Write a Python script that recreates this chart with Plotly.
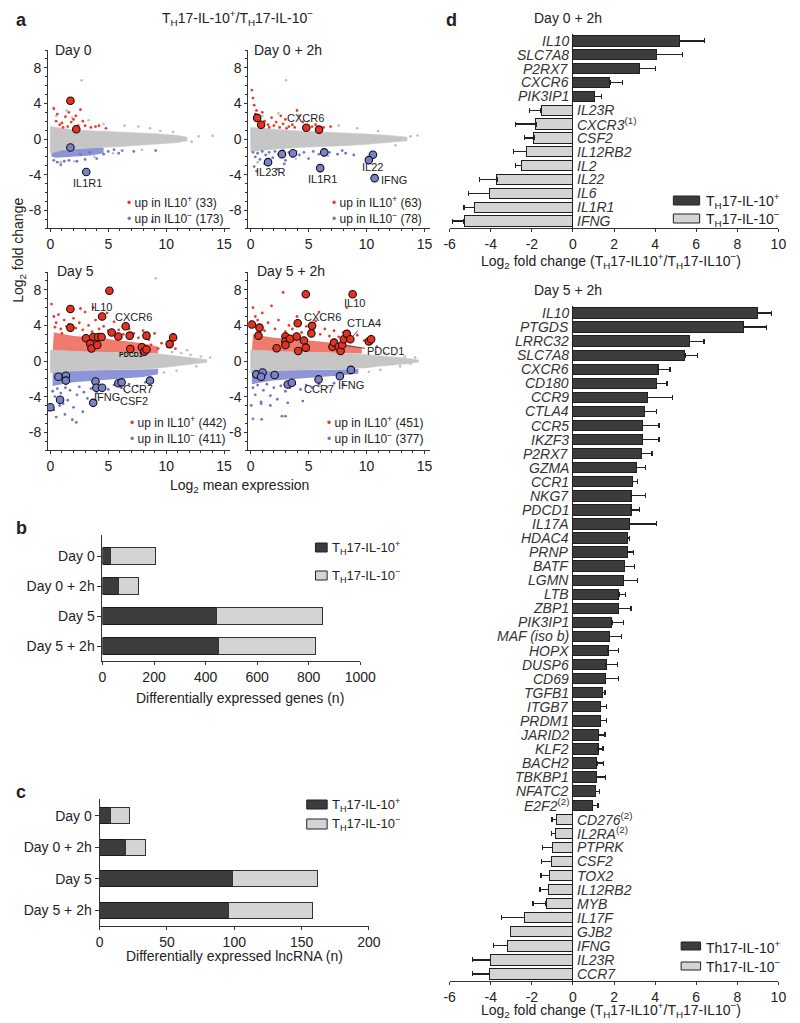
import plotly.graph_objects as go

FONT = "Liberation Sans, Arial, Helvetica, sans-serif"
W, H = 800, 1023
OFF = 8  # default page body margin; layout coordinates below are page pixels
DARK = "#3c3c3c"
LIGHT = "#d4d4d4"
RED = "#ec3b2c"
BLUE = "#6f77c4"
GRAY = "#c6c6c6"
TXT = "#222222"

# ======================= panel a data =======================
ma_titles = ["Day 0", "Day 0 + 2h", "Day 5", "Day 5 + 2h"]
n_up_pos = [33, 63, 442, 451]
n_up_neg = [173, 78, 411, 377]

# ---- Day 0 ----
d0_band_x = [0, 0.5, 1, 2, 3, 4, 5, 6, 7, 8, 9, 10, 11, 11.8]
d0_band_hi = [1.4, 1.3, 1.15, 1.0, 0.95, 0.9, 0.85, 0.8, 0.75, 0.7, 0.6, 0.5, 0.4, 0.2]
d0_band_lo = [-1.6, -1.4, -1.25, -1.1, -1.0, -0.95, -0.9, -0.85, -0.8, -0.7, -0.6, -0.5, -0.4, -0.2]
d0_rzone_x = []
d0_rzone_y = []
d0_bzone_x = [0.1, 1, 2, 3, 4, 4.6, 4.6, 3.5, 2.5, 1.5, 0.5, 0.1]
d0_bzone_y = [-1.3, -1.2, -1.1, -1.0, -0.95, -0.95, -1.6, -1.85, -1.95, -2.05, -2.1, -2.0]
d0_gray_x = [2.7, 12.8, 14.0, 12.2, 0.5, 1.4, 3.3, 4.6, 6.4, 7.6, 8.6, 9.5, 10.6, 2.1, 5.4, 7.9, 0.9, 3.8, 1.9, 0.3]
d0_gray_y = [6.6, 0.3, 0.35, -0.3, 2.6, 3.2, 2.1, 1.7, 1.5, 1.4, 1.2, 0.9, 0.8, -2.5, -1.6, -1.2, -2.6, -2.0, 2.4, 3.5]
d0_red_x = [0.3, 0.5, 0.8, 1.0, 1.3, 1.5, 1.8, 2.0, 2.4, 2.6, 2.8, 3.0, 3.5, 3.9, 4.2, 4.8, 1.1, 0.6, 2.2, 1.6]
d0_red_y = [3.4, 2.0, 1.6, 1.8, 2.5, 1.4, 1.9, 2.2, 1.5, 3.3, 2.0, 1.5, 1.3, 1.4, 1.5, 1.2, 1.3, 2.8, 2.6, 3.0]
d0_blue_x = [0.6, 0.9, 1.6, 2.3, 3.0, 4.0, 5.0, 5.5, 6.2, 7.2, 9.1, 3.4, 2.6, 1.2, 4.6, 8.8, 0.3, 5.9]
d0_blue_y = [-2.6, -2.9, -2.4, -2.5, -2.3, -2.2, -1.4, -1.2, -1.3, -1.4, -1.3, -1.5, -1.7, -2.5, -1.7, -9.3, -2.4, -1.6]
d0_hr_x = [1.73, 2.24]
d0_hr_y = [4.3, 1.1]
d0_hb_x = [1.73, 3.1]
d0_hb_y = [-0.95, -3.7]
d0_lbl = ["IL1R1"]
d0_lbl_x = [3.2]
d0_lbl_y = [-4.9]

# ---- Day 0 + 2h ----
d2_band_x = [0, 1, 2, 4, 6, 8, 10, 12, 13.5]
d2_band_hi = [1.3, 1.2, 1.05, 0.9, 0.8, 0.7, 0.55, 0.4, 0.2]
d2_band_lo = [-1.4, -1.3, -1.15, -0.95, -0.85, -0.75, -0.6, -0.4, -0.2]
d2_rzone_x = []
d2_rzone_y = []
d2_bzone_x = []
d2_bzone_y = []
d2_gray_x = [3.05, 13.8, 14.4, 1.0, 2.4, 5.0, 7.6, 9.2, 11.0, 0.6, 3.9, 6.7, 12.5]
d2_gray_y = [6.6, 0.3, 0.4, 2.6, 2.9, 2.0, 1.5, 1.2, 0.9, -2.6, -2.2, -1.9, -0.7]
d2_red_x = [0.1, 0.2, 0.3, 0.5, 0.4, 0.7, 1.0, 1.2, 1.5, 1.8, 2.0, 2.2, 2.5, 2.8, 3.0, 3.3, 3.6, 4.0, 4.2,
            4.5, 4.9, 5.3, 5.6, 6.3, 6.9, 1.6, 0.9, 2.6, 3.8, 3.1]
d2_red_y = [5.5, 4.6, 3.8, 3.2, 2.8, 2.1, 3.0, 2.0, 1.6, 2.4, 1.5, 1.9, 1.3, 1.7, 2.2, 1.4, 1.6, 3.2, 2.6,
            1.9, 1.5, 1.4, 1.6, 1.3, 1.4, 1.3, 1.5, 2.6, 1.3, 1.2]
d2_blue_x = [0.2, 0.4, 0.6, 0.8, 1.0, 1.3, 1.6, 1.9, 2.1, 2.4, 2.8, 3.0, 3.3, 3.6, 3.9, 4.2, 4.6, 5.0,
             5.4, 5.9, 6.8, 7.5, 8.2, 8.9, 0.3, 1.2, 2.3, 0.5, 2.9, 7.9]
d2_blue_y = [-1.5, -2.0, -1.6, -2.3, -1.4, -1.8, -1.5, -2.1, -1.4, -1.7, -1.3, -2.4, -1.5, -2.0, -1.4,
             -1.8, -1.5, -2.2, -1.4, -1.7, -1.5, -1.7, -1.6, -1.8, -3.1, -2.8, -3.4, -3.6, -2.8, -1.3]
d2_hr_x = [0.56, 0.9, 4.8, 5.9]
d2_hr_y = [2.37, 1.6, 1.27, 1.05]
d2_hb_x = [1.5, 2.7, 3.65, 6.35, 6.0, 10.55, 10.2, 10.7]
d2_hb_y = [-2.6, -1.7, -1.6, -1.5, -3.27, -1.77, -2.37, -4.4]
d2_lbl = ["CXCR6", "IL23R", "IL1R1", "IL22", "IFNG"]
d2_lbl_x = [4.7, 1.75, 6.2, 10.5, 12.4]
d2_lbl_y = [2.35, -3.75, -4.5, -3.2, -4.6]

# ---- Day 5 ----
d5_band_x = [0, 1, 2, 4, 6, 8, 9, 10, 11, 12, 13.5]
d5_band_hi = [1.25, 1.15, 1.1, 1.0, 0.95, 0.9, 0.85, 0.7, 0.55, 0.35, 0.15]
d5_band_lo = [-1.3, -1.2, -1.1, -1.0, -0.95, -0.9, -0.85, -0.75, -0.6, -0.4, -0.15]
d5_rzone_x = [0.2, 2, 4, 6, 8, 9.3, 9.3, 8, 6, 4, 2, 1, 0.3]
d5_rzone_y = [1.1, 1.0, 1.0, 0.95, 0.9, 0.85, 1.6, 2.0, 2.3, 2.6, 2.8, 3.0, 3.2]
d5_bzone_x = [0.2, 2, 4, 6, 8, 9.3, 9.3, 8, 6, 4, 2, 1, 0.2]
d5_bzone_y = [-1.2, -1.1, -1.0, -1.0, -0.95, -0.9, -1.5, -1.8, -2.0, -2.2, -2.4, -2.6, -2.8]
d5_gray_x = [9.1, 10.5, 11.3, 12.1, 13.0, 13.8, 10.9, 12.6, 9.8, 11.8]
d5_gray_y = [9.3, 1.0, 0.9, 0.7, 0.5, 0.4, -1.1, -0.6, -1.3, 1.2]
d5_red_x = [0.1, 0.3, 0.5, 0.7, 0.9, 1.2, 1.4, 1.6, 2.0, 2.2, 2.5, 2.8, 3.0, 3.3, 3.6, 3.9, 4.2, 4.6,
            5.0, 5.5, 5.9, 6.3, 6.8, 7.2, 7.6, 8.0, 8.5, 9.0, 9.6, 10.1, 10.8, 3.7, 2.6, 4.9, 1.0, 6.1,
            8.7, 9.3, 0.4, 1.8]
d5_red_y = [6.4, 5.0, 4.3, 5.2, 3.6, 4.6, 3.9, 4.1, 4.8, 3.7, 4.3, 3.5, 5.5, 4.0, 3.3, 4.6, 3.6, 3.9,
            3.4, 4.4, 3.5, 3.0, 3.6, 3.1, 2.6, 3.4, 2.4, 3.1, 2.0, 1.6, 1.4, 6.0, 5.9, 5.4, 3.1, 2.6,
            1.8, 1.4, 3.8, 3.4]
d5_blue_x = [0.2, 0.4, 0.6, 0.9, 1.1, 1.3, 1.7, 2.0, 2.3, 2.5, 2.9, 3.2, 3.5, 4.0, 4.4, 5.0, 5.5, 6.1,
             6.8, 7.5, 8.2, 1.26, 0.5, 2.24, 0.3, 1.9, 2.8, 1.5, 3.6, 0.8]
d5_blue_y = [-3.4, -4.0, -3.1, -3.6, -4.8, -3.0, -3.3, -5.2, -3.8, -2.9, -3.5, -4.2, -3.1, -3.6, -2.8,
             -3.2, -2.7, -3.0, -2.6, -2.8, -2.4, -6.0, -6.3, -6.9, -5.5, -6.6, -5.7, -4.4, -4.9, -5.0]
d5_hr_x = [5.1, 1.73, 1.73, 4.47, 6.5, 5.3, 3.07, 3.7, 4.13, 4.42, 5.87, 6.85, 8.3, 3.44, 3.55, 4.05,
           6.9, 7.9, 8.1, 8.3, 10.3, 10.6]
d5_hr_y = [7.9, 5.85, 3.75, 5.0, 3.9, 3.2, 2.55, 2.7, 2.7, 2.7, 2.75, 2.85, 2.85, 1.95, 1.4, 1.8,
           1.35, 1.55, 1.05, 1.3, 1.9, 2.65]
d5_hb_x = [0.7, 1.34, 1.34, 3.9, 3.97, 4.47, 5.87, 6.15, 8.6, 0.84, 3.7, 0.0]
d5_hb_y = [-1.77, -1.66, -2.2, -2.3, -3.0, -3.0, -2.5, -2.4, -2.2, -4.35, -4.7, -5.2]
d5_lbl = ["IL10", "CXCR6", "IFNG"]
d5_lbl_x = [4.4, 7.2, 4.85]
d5_lbl_y = [6.1, 4.9, -4.0]

# ---- Day 5 + 2h ----
d52_band_x = [0, 1, 2, 4, 6, 8, 9, 10, 11, 12, 13.5, 14.5]
d52_band_hi = [1.25, 1.15, 1.1, 1.0, 0.95, 0.9, 0.85, 0.7, 0.6, 0.45, 0.3, 0.1]
d52_band_lo = [-1.3, -1.2, -1.1, -1.0, -0.95, -0.9, -0.85, -0.75, -0.6, -0.45, -0.3, -0.1]
d52_rzone_x = [0.1, 2, 4, 6, 8, 9.6, 9.6, 8, 6, 4, 2, 1, 0.2]
d52_rzone_y = [1.1, 1.0, 1.0, 0.95, 0.9, 0.85, 1.5, 1.9, 2.2, 2.4, 2.6, 2.8, 3.0]
d52_bzone_x = [0.1, 2, 4, 6, 8, 9.3, 9.3, 8, 6, 4, 2, 1, 0.1]
d52_bzone_y = [-1.2, -1.1, -1.0, -1.0, -0.95, -0.9, -1.4, -1.6, -1.8, -2.0, -2.2, -2.4, -2.6]
d52_gray_x = [10.8, 11.6, 12.4, 13.3, 14.2, 11.2, 12.9, 10.2, 13.8]
d52_gray_y = [1.0, 0.9, 0.7, 0.5, 0.4, -1.0, -0.6, -1.2, -0.3]
d52_red_x = [0.2, 0.4, 0.6, 0.9, 1.2, 1.5, 1.8, 2.1, 2.4, 2.8, 3.0, 3.3, 3.6, 4.0, 4.4, 4.8, 5.2, 5.6,
             6.0, 6.4, 6.8, 7.2, 7.6, 8.0, 8.3, 8.7, 9.2, 9.8, 10.4, 10.9, 1.0, 3.8, 5.9]
d52_red_y = [6.0, 5.0, 4.6, 4.0, 3.4, 4.3, 6.2, 3.6, 4.6, 7.7, 3.3, 4.0, 3.6, 5.0, 3.2, 3.9, 3.4, 4.5,
             3.0, 3.6, 2.8, 3.4, 2.7, 3.2, 6.0, 2.5, 2.9, 2.3, 2.8, 1.6, 5.4, 2.6, 5.5]
d52_blue_x = [0.2, 0.4, 0.6, 0.9, 1.1, 1.4, 1.7, 2.0, 2.3, 2.6, 3.0, 3.4, 3.8, 4.3, 4.8, 5.3, 5.9, 6.6,
              7.2, 8.0, 0.05, 0.9, 1.7, 3.2, 4.5, 0.95, 2.7, 3.0, 0.2]
d52_blue_y = [-3.0, -3.8, -2.7, -4.6, -3.3, -2.6, -3.9, -3.0, -4.3, -2.8, -3.4, -3.0, -2.6, -3.2, -2.7,
              -3.0, -2.6, -2.9, -2.5, -2.6, -5.0, -4.8, -5.0, -4.7, -4.5, -6.55, -6.2, -6.2, -6.5]
d52_hr_x = [4.76, 8.8, 0.1, 0.76, 0.67, 4.06, 5.3, 5.24, 3.0, 3.0, 3.4, 3.97, 4.6, 3.0, 2.24, 4.1,
            4.76, 7.06, 7.2, 7.6, 7.76, 7.9, 8.04, 8.3, 8.6, 10.2, 10.4]
d52_hr_y = [7.5, 7.5, 4.1, 3.75, 2.85, 4.25, 3.95, 3.1, 2.75, 2.2, 2.5, 2.75, 2.3, 1.8, 1.43, 1.13,
            1.5, 1.6, 2.07, 1.6, 1.13, 1.8, 2.45, 3.05, 2.45, 2.2, 2.45]
d52_hb_x = [0.48, 1.03, 0.9, 2.07, 3.2, 3.55, 5.86, 7.7, 8.65]
d52_hb_y = [-1.5, -1.3, -1.77, -1.58, -2.64, -2.45, -2.07, -1.7, -1.0]
d52_lbl = ["IL10", "CXCR6", "CCR7", "IFNG"]
d52_lbl_x = [9.0, 6.2, 5.94, 8.7]
d52_lbl_y = [6.5, 5.0, -3.2, -2.64]

# ======================= panel b / c data =======================
conditions = ["Day 0", "Day 0 + 2h", "Day 5", "Day 5 + 2h"]
genes_up_pos = [33, 63, 442, 451]
genes_up_neg = [173, 78, 411, 377]
lnc_up_pos = [8, 19, 99, 96]
lnc_up_neg = [14, 15, 63, 62]

# ======================= panel d data =======================
d0h_genes = ["IL10", "SLC7A8", "P2RX7", "CXCR6", "PIK3IP1", "IL23R", "CXCR3<sup>(1)</sup>", "CSF2",
             "IL12RB2", "IL2", "IL22", "IL6", "IL1R1", "IFNG"]
d0h_lfc = [5.2, 4.05, 3.23, 1.8, 1.05, -1.55, -1.8, -1.9, -2.25, -2.5, -3.7, -4.05, -4.8, -5.3]
d0h_err = [1.2, 1.3, 0.8, 0.6, 0.35, 0.55, 1.0, 0.45, 0.65, 0.3, 0.85, 1.05, 0.5, 0.55]

d5h_genes = ["IL10", "PTGDS", "LRRC32", "SLC7A8", "CXCR6", "CD180", "CCR9", "CTLA4", "CCR5", "IKZF3",
             "P2RX7", "GZMA", "CCR1", "NKG7", "PDCD1", "IL17A", "HDAC4", "PRNP", "BATF", "LGMN", "LTB",
             "ZBP1", "PIK3IP1", "MAF (iso b)", "HOPX", "DUSP6", "CD69", "TGFB1", "ITGB7", "PRDM1",
             "JARID2", "KLF2", "BACH2", "TBKBP1", "NFATC2", "E2F2<sup>(2)</sup>", "CD276<sup>(2)</sup>",
             "IL2RA<sup>(2)</sup>", "PTPRK", "CSF2", "TOX2", "IL12RB2", "MYB", "IL17F", "GJB2", "IFNG",
             "IL23R", "CCR7"]
d5h_lfc = [9.0, 8.29, 5.67, 5.45, 4.14, 4.08, 3.63, 3.48, 3.4, 3.38, 3.35, 3.11, 2.88, 2.83, 2.83, 2.76,
           2.67, 2.65, 2.51, 2.45, 2.24, 2.2, 1.9, 1.77, 1.71, 1.61, 1.58, 1.45, 1.34, 1.33, 1.26, 1.22,
           1.17, 1.14, 1.1, 0.95, -0.8, -0.84, -1.0, -1.04, -1.15, -1.2, -1.31, -2.37, -3.05, -3.2,
           -4.03, -4.08]
d5h_err = [0.67, 1.14, 0.71, 0.62, 0.58, 0.5, 1.22, 0.58, 0.79, 0.81, 0.5, 0.43, 0.28, 0.71, 0.41, 1.3,
           0.08, 0.3, 0.47, 0.7, 0.32, 0.63, 0.55, 0.58, 0.49, 0.55, 0.62, 0.11, 0.3, 0.31, 0.3, 0.24,
           0.33, 0.43, 0.19, 0.27, 0.22, 0.19, 0.5, 0.5, 0.4, 0.4, 0.63, 1.12, 0.0, 0.68, 0.84, 0.82]

# ======================= helpers =======================
fig = go.Figure()
annotations = []
shapes = []


def px_x(p):
    return (p - OFF) / W


def px_y(p):
    return 1 - (p - OFF) / H


def note(text, x, y, size=14, xanchor="center", yanchor="middle", bold=False, angle=0, color=TXT):
    if bold:
        text = "<b>" + text + "</b>"
    annotations.append(dict(text=text, x=px_x(x), y=px_y(y), xref="paper", yref="paper",
                            showarrow=False, xanchor=xanchor, yanchor=yanchor, textangle=angle,
                            font=dict(family=FONT, size=size, color=color)))


def legend_box(x0, x1, ytop, ybot, fill):
    shapes.append(dict(type="rect", xref="paper", yref="paper", x0=px_x(x0), x1=px_x(x1),
                       y0=px_y(ybot), y1=px_y(ytop), fillcolor=fill,
                       line=dict(color="#222", width=1)))


def dom_x(a, b):
    return [px_x(a), px_x(b)]


def dom_y(top, bottom):
    return [px_y(bottom), px_y(top)]


def add_ma(k, band_x, band_hi, band_lo, rz_x, rz_y, bz_x, bz_y, g_x, g_y, r_x, r_y, b_x, b_y,
           hr_x, hr_y, hb_x, hb_y, lbl, lbl_x, lbl_y):
    xa, ya = "x%d" % k, "y%d" % k
    if rz_x:
        fig.add_trace(go.Scatter(x=rz_x + [rz_x[0]], y=rz_y + [rz_y[0]], fill="toself", mode="lines",
                                 line=dict(width=0), fillcolor="#f07a6c", xaxis=xa, yaxis=ya,
                                 hoverinfo="skip"))
    if bz_x:
        fig.add_trace(go.Scatter(x=bz_x + [bz_x[0]], y=bz_y + [bz_y[0]], fill="toself", mode="lines",
                                 line=dict(width=0), fillcolor="#8e95d6", xaxis=xa, yaxis=ya,
                                 hoverinfo="skip"))
    px = list(band_x) + list(reversed(band_x)) + [band_x[0]]
    py = list(band_hi) + list(reversed(band_lo)) + [band_hi[0]]
    fig.add_trace(go.Scatter(x=px, y=py, fill="toself", mode="lines", line=dict(width=0.6, color=GRAY),
                             fillcolor=GRAY, xaxis=xa, yaxis=ya, hoverinfo="skip"))
    fig.add_trace(go.Scatter(x=g_x, y=g_y, mode="markers", marker=dict(size=2.6, color="#bdbdbd"),
                             xaxis=xa, yaxis=ya))
    fig.add_trace(go.Scatter(x=r_x, y=r_y, mode="markers", marker=dict(size=2.8, color=RED),
                             xaxis=xa, yaxis=ya))
    fig.add_trace(go.Scatter(x=b_x, y=b_y, mode="markers", marker=dict(size=2.8, color=BLUE),
                             xaxis=xa, yaxis=ya))
    fig.add_trace(go.Scatter(x=hr_x, y=hr_y, mode="markers",
                             marker=dict(size=7.5, color="#e8311f", line=dict(color="#111", width=1.1)),
                             xaxis=xa, yaxis=ya))
    fig.add_trace(go.Scatter(x=hb_x, y=hb_y, mode="markers",
                             marker=dict(size=7.5, color="#7b82cc", line=dict(color="#111", width=1.1)),
                             xaxis=xa, yaxis=ya))
    for t, x, y in zip(lbl, lbl_x, lbl_y):
        annotations.append(dict(text=t, x=x, y=y, xref=xa, yref=ya, showarrow=False,
                                font=dict(family=FONT, size=11, color=TXT)))


def arrow_label(k, text, px_, py_, tx, ty, size=11):
    xa, ya = "x%d" % k, "y%d" % k
    annotations.append(dict(text=text, x=px_, y=py_, ax=tx, ay=ty, xref=xa, yref=ya, axref=xa, ayref=ya,
                            showarrow=True, arrowhead=0, arrowwidth=0.8, arrowcolor="#333", standoff=4,
                            font=dict(family=FONT, size=size, color=TXT)))


# ======================= panel a =======================
add_ma(1, d0_band_x, d0_band_hi, d0_band_lo, d0_rzone_x, d0_rzone_y, d0_bzone_x, d0_bzone_y,
       d0_gray_x, d0_gray_y, d0_red_x, d0_red_y, d0_blue_x, d0_blue_y,
       d0_hr_x, d0_hr_y, d0_hb_x, d0_hb_y, d0_lbl, d0_lbl_x, d0_lbl_y)
add_ma(2, d2_band_x, d2_band_hi, d2_band_lo, d2_rzone_x, d2_rzone_y, d2_bzone_x, d2_bzone_y,
       d2_gray_x, d2_gray_y, d2_red_x, d2_red_y, d2_blue_x, d2_blue_y,
       d2_hr_x, d2_hr_y, d2_hb_x, d2_hb_y, d2_lbl, d2_lbl_x, d2_lbl_y)
add_ma(3, d5_band_x, d5_band_hi, d5_band_lo, d5_rzone_x, d5_rzone_y, d5_bzone_x, d5_bzone_y,
       d5_gray_x, d5_gray_y, d5_red_x, d5_red_y, d5_blue_x, d5_blue_y,
       d5_hr_x, d5_hr_y, d5_hb_x, d5_hb_y, d5_lbl, d5_lbl_x, d5_lbl_y)
add_ma(4, d52_band_x, d52_band_hi, d52_band_lo, d52_rzone_x, d52_rzone_y, d52_bzone_x, d52_bzone_y,
       d52_gray_x, d52_gray_y, d52_red_x, d52_red_y, d52_blue_x, d52_blue_y,
       d52_hr_x, d52_hr_y, d52_hb_x, d52_hb_y, d52_lbl, d52_lbl_x, d52_lbl_y)

annotations.append(dict(text="<b>PDCD1</b>", x=6.95, y=0.75, xref="x3", yref="y3", showarrow=False,
                        font=dict(family=FONT, size=7, color="#111")))
arrow_label(3, "CCR7", 6.15, -2.4, 7.6, -3.2)
arrow_label(3, "CSF2", 5.87, -2.5, 7.2, -4.5)
arrow_label(4, "CTLA4", 8.6, 2.45, 9.8, 4.25)
arrow_label(4, "PDCD1", 7.9, 1.8, 11.6, 1.1)

ma_dom_x = [(43, 230), (249, 436), (43, 230), (249, 436)]
ma_dom_y = [(50, 228), (50, 228), (272, 450), (272, 450)]
ma_title_pos = [(48, 50), (253, 50), (50, 271), (256, 271)]
ma_leg_pos = [(122, 202, 218), (333, 202, 218), (125, 422, 438), (328, 422, 438)]

layout_axes = {}
for k in range(1, 5):
    xd = ma_dom_x[k - 1]
    yd = ma_dom_y[k - 1]
    layout_axes["xaxis%d" % k] = dict(
        domain=dom_x(*xd), range=[-0.2, 15.5], anchor="y%d" % k, tickvals=[0, 5, 10, 15],
        ticks="outside", ticklen=3, tickcolor="#333", showline=True, linecolor="#333", linewidth=1,
        showgrid=False, zeroline=False, tickfont=dict(family=FONT, size=14, color=TXT),
        minor=dict(dtick=1, ticks="outside", ticklen=2, tickcolor="#333"))
    layout_axes["yaxis%d" % k] = dict(
        domain=dom_y(*yd), range=[-10, 10], anchor="x%d" % k, tickvals=[-8, -4, 0, 4, 8],
        ticktext=["-8", "-4", "0", "4", "8"], ticks="outside", ticklen=3, tickcolor="#333",
        showline=True, linecolor="#333", linewidth=1, showgrid=False, zeroline=False,
        tickfont=dict(family=FONT, size=14, color=TXT),
        minor=dict(dtick=1, ticks="outside", ticklen=2, tickcolor="#333"))
    tx, ty = ma_title_pos[k - 1]
    note(ma_titles[k - 1], tx, ty, size=14, xanchor="left")
    lx, ly1, ly2 = ma_leg_pos[k - 1]
    note('<span style="color:%s">•</span> up in IL10<sup>+</sup> (%d)' % (RED, n_up_pos[k - 1]),
         lx, ly1, size=12, xanchor="left")
    note('<span style="color:%s">•</span> up in IL10<sup>−</sup> (%d)' % (BLUE, n_up_neg[k - 1]),
         lx, ly2, size=12, xanchor="left")

note("a", 8, 8, size=18, bold=True, xanchor="left", yanchor="top")
note("T<sub>H</sub>17-IL-10<sup>+</sup>/T<sub>H</sub>17-IL-10<sup>−</sup>", 238, 18, size=14)
note("Log<sub>2</sub> fold change", 13, 250, size=14, angle=-90)
note("Log<sub>2</sub> mean expression", 240, 486, size=14)

# ======================= panel b / c =======================
idx = list(range(len(conditions)))
for k, pos, neg, width in [(5, genes_up_pos, genes_up_neg, 0.55), (6, lnc_up_pos, lnc_up_neg, 0.52)]:
    fig.add_trace(go.Bar(y=idx, x=pos, orientation="h", width=width, xaxis="x%d" % k, yaxis="y%d" % k,
                         marker=dict(color=DARK, line=dict(color="#1a1a1a", width=1))))
    fig.add_trace(go.Bar(y=idx, x=neg, orientation="h", width=width, xaxis="x%d" % k, yaxis="y%d" % k,
                         marker=dict(color=LIGHT, line=dict(color="#333", width=1))))

cat_axis = dict(tickvals=idx, ticktext=conditions, ticks="outside", ticklen=4, tickcolor="#333",
                showline=True, linecolor="#333", linewidth=1, showgrid=False, zeroline=False,
                tickfont=dict(family=FONT, size=14, color=TXT))
num_axis = dict(ticks="outside", ticklen=3, tickcolor="#333", showline=True, linecolor="#333",
                linewidth=1, showgrid=False, zeroline=False, tickfont=dict(family=FONT, size=14, color=TXT))
layout_axes["xaxis5"] = dict(num_axis, domain=dom_x(99, 364), range=[0, 1000], anchor="y5",
                             tickvals=[0, 200, 400, 600, 800, 1000])
layout_axes["yaxis5"] = dict(cat_axis, domain=dom_y(535, 661), range=[3.5, -0.7], anchor="x5")
layout_axes["xaxis6"] = dict(num_axis, domain=dom_x(96, 373), range=[0, 200], anchor="y6",
                             tickvals=[0, 50, 100, 150, 200])
layout_axes["yaxis6"] = dict(cat_axis, domain=dom_y(799, 926), range=[3.5, -0.53], anchor="x6")

note("b", 8, 528, size=18, bold=True, xanchor="left")
note("c", 8, 792, size=18, bold=True, xanchor="left")
note("Differentially expressed genes (n)", 240, 698, size=14)
note("Differentially expressed lncRNA (n)", 235, 956, size=14)

LEG_P = "T<sub>H</sub>17-IL-10<sup>+</sup>"
LEG_N = "T<sub>H</sub>17-IL-10<sup>−</sup>"
legend_box(318, 330, 543, 552, DARK)
legend_box(318, 330, 571, 580, LIGHT)
note(LEG_P, 333, 547.5, size=13, xanchor="left")
note(LEG_N, 333, 575.5, size=13, xanchor="left")
legend_box(309, 330, 800, 809, DARK)
legend_box(309, 330, 819, 829, LIGHT)
note(LEG_P, 333, 804.5, size=13, xanchor="left")
note(LEG_N, 333, 824, size=13, xanchor="left")

# ======================= panel d =======================
for k, genes, lfc, err, dom in [(7, d0h_genes, d0h_lfc, d0h_err, (34, 228)),
                                (8, d5h_genes, d5h_lfc, d5h_err, (306, 981))]:
    yi = list(range(len(genes)))
    colors = [DARK if v > 0 else LIGHT for v in lfc]
    plus = [e if v > 0 else 0 for v, e in zip(lfc, err)]
    minus = [e if v < 0 else 0 for v, e in zip(lfc, err)]
    fig.add_trace(go.Bar(y=yi, x=lfc, orientation="h", width=0.74, xaxis="x%d" % k, yaxis="y%d" % k,
                         marker=dict(color=colors, line=dict(color="#1e1e1e", width=1)),
                         error_x=dict(type="data", symmetric=False, array=plus, arrayminus=minus,
                                      color="#222", thickness=1.2, width=2.5)))
    layout_axes["xaxis%d" % k] = dict(
        num_axis, domain=dom_x(456, 794), range=[-6, 10], anchor="y%d" % k,
        tickvals=[-6, -4, -2, 0, 2, 4, 6, 8, 10],
        ticktext=["-6", "-4", "-2", "0", "2", "4", "6", "8", "10"],
        zeroline=True, zerolinecolor="#222", zerolinewidth=1)
    layout_axes["yaxis%d" % k] = dict(domain=dom_y(*dom), range=[len(genes) - 0.5, -0.5],
                                      anchor="x%d" % k, showline=False, showticklabels=False,
                                      ticks="", showgrid=False, zeroline=False)
    for i, (g, v) in enumerate(zip(genes, lfc)):
        if "<sup>" in g:
            name, sup = g.split("<sup>")
            label = "<i>%s</i><sup>%s" % (name, sup)
        else:
            label = "<i>%s</i>" % g
        annotations.append(dict(text=label, x=0, y=i, xref="x%d" % k, yref="y%d" % k, showarrow=False,
                                xanchor="right" if v > 0 else "left", xshift=-3 if v > 0 else 3,
                                borderpad=0, font=dict(family=FONT, size=14, color="#333")))

note("d", 450, 8, size=18, bold=True, xanchor="left", yanchor="top")
note("Day 0 + 2h", 578, 18, size=14)
note("Day 5 + 2h", 578, 290, size=14)
D_TITLE = "Log<sub>2</sub> fold change (T<sub>H</sub>17-IL10<sup>+</sup>/T<sub>H</sub>17-IL10<sup>−</sup>)"
note(D_TITLE, 622, 261, size=14)
note(D_TITLE, 622, 1010, size=14)

legend_box(686, 713, 196, 205, DARK)
legend_box(686, 713, 214, 223, LIGHT)
note(LEG_P, 717, 200.5, size=14, xanchor="left")
note(LEG_N, 717, 218.5, size=14, xanchor="left")
legend_box(694, 714, 942, 950, DARK)
legend_box(694, 714, 962, 970, LIGHT)
note("Th17-IL-10<sup>+</sup>", 717, 946.5, size=14, xanchor="left")
note("Th17-IL-10<sup>−</sup>", 717, 966, size=14, xanchor="left")

fig.update_layout(
    width=W, height=H, margin=dict(l=0, r=0, t=0, b=0), showlegend=False,
    paper_bgcolor="white", plot_bgcolor="white", barmode="stack",
    font=dict(family=FONT, size=14, color=TXT),
    annotations=annotations, shapes=shapes, **layout_axes)

fig.write_html("out.html")
